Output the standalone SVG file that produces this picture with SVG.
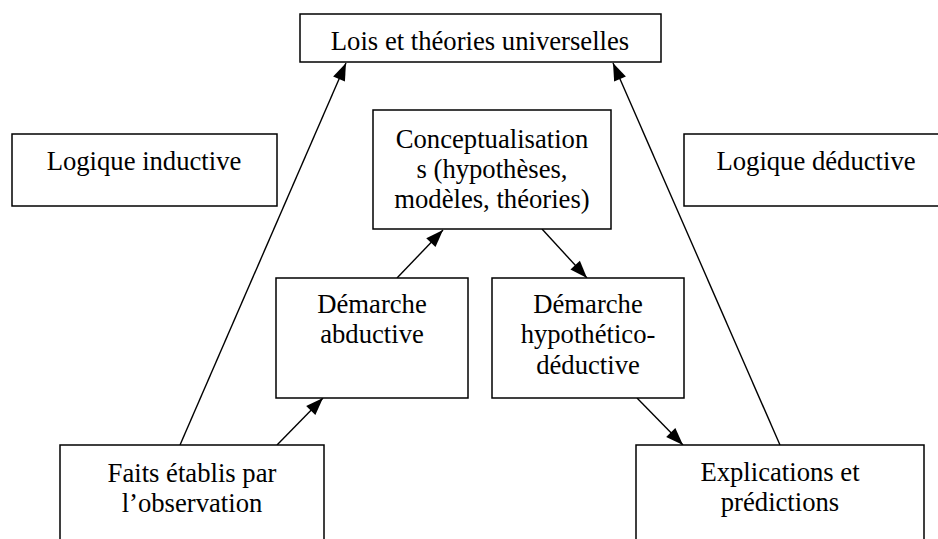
<svg xmlns="http://www.w3.org/2000/svg" width="938" height="539" viewBox="0 0 938 539">
<style>
rect{fill:#fff;stroke:#000;stroke-width:1.5}
text{font-family:"Liberation Serif","Times New Roman",serif;font-size:26.67px;fill:#000;text-anchor:middle}
.c line{stroke:#000;stroke-width:1.4}
</style>
<defs>
<marker id="ah" markerUnits="userSpaceOnUse" markerWidth="20" markerHeight="14" viewBox="-16 -6 17 12" refX="0" refY="0" orient="auto">
<path d="M0,0 L-15,-5.5 L-15,5.5 Z" fill="#000"/>
</marker>
</defs>
<rect x="0" y="0" width="938" height="539" style="stroke:none"/>
<g class="c" id="connectors">
<line x1="180" y1="445" x2="346" y2="63" marker-end="url(#ah)"/>
<line x1="780" y1="445" x2="613" y2="63" marker-end="url(#ah)"/>
<line x1="277" y1="445" x2="323" y2="398" marker-end="url(#ah)"/>
<line x1="397" y1="278" x2="443" y2="230" marker-end="url(#ah)"/>
<line x1="542" y1="229" x2="587" y2="278" marker-end="url(#ah)"/>
<line x1="637" y1="398" x2="683" y2="445" marker-end="url(#ah)"/>
</g>
<g id="lois">
<rect x="300" y="14" width="361" height="48"/>
<text x="480" y="50">Lois et théories universelles</text>
</g>
<g id="inductive">
<rect x="12" y="134" width="265" height="72"/>
<text x="144" y="170">Logique inductive</text>
</g>
<g id="deductive">
<rect x="684" y="134" width="270" height="72"/>
<text x="816" y="170">Logique déductive</text>
</g>
<g id="conceptualisation">
<rect x="373" y="110" width="238" height="119"/>
<text x="492" y="148">Conceptualisation</text>
<text x="492" y="178">s (hypothèses,</text>
<text x="492" y="208">modèles, théories)</text>
</g>
<g id="abductive">
<rect x="276" y="278" width="192" height="120"/>
<text x="372" y="313">Démarche</text>
<text x="372" y="343">abductive</text>
</g>
<g id="hypothetico">
<rect x="492" y="278" width="192" height="120"/>
<text x="588" y="313">Démarche</text>
<text x="588" y="343">hypothético-</text>
<text x="588" y="374">déductive</text>
</g>
<g id="faits">
<rect x="60" y="445" width="264" height="120"/>
<text x="192" y="482">Faits établis par</text>
<text x="192" y="512">l’observation</text>
</g>
<g id="explications">
<rect x="636" y="445" width="288" height="120"/>
<text x="780" y="481">Explications et</text>
<text x="780" y="511">prédictions</text>
</g>
</svg>
